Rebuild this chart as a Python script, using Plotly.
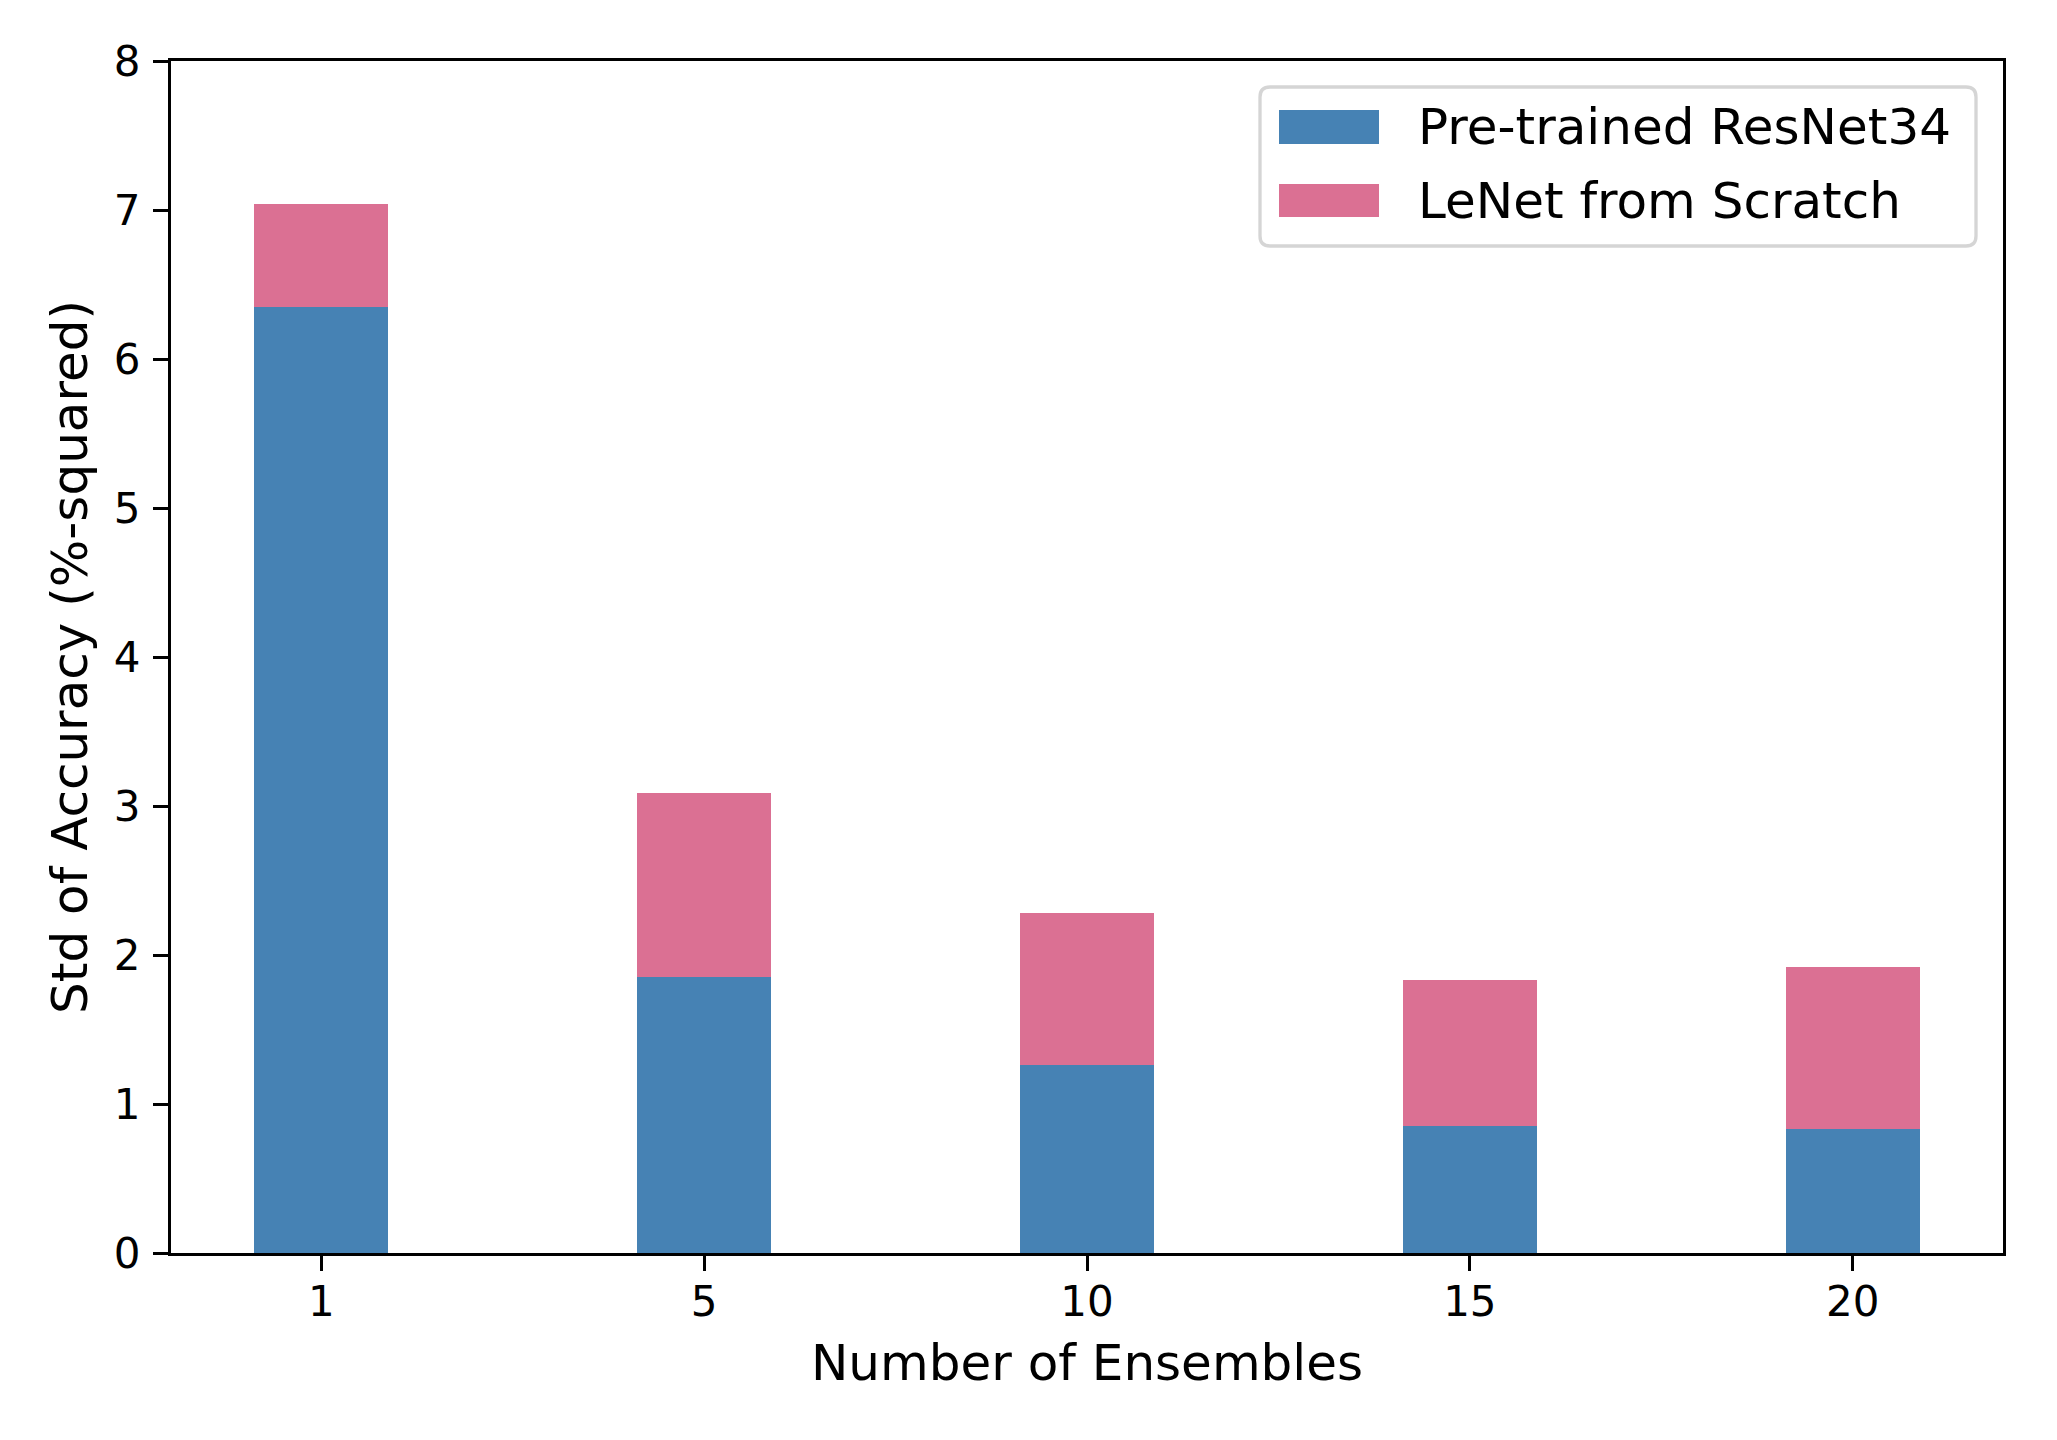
import plotly.graph_objects as go

categories = ["1", "5", "10", "15", "20"]
resnet_values = [6.35, 1.85, 1.26, 0.85, 0.83]
lenet_values = [0.69, 1.24, 1.02, 0.98, 1.09]
series_names = ["Pre-trained ResNet34", "LeNet from Scratch"]
y_ticks = [0, 1, 2, 3, 4, 5, 6, 7, 8]

blue = "#4682b4"
pink = "#db7093"
FONT = "DejaVu Sans"

x_pos = list(range(len(categories)))

fig = go.Figure()
fig.add_trace(go.Bar(x=x_pos, y=resnet_values, name=series_names[0],
                     marker=dict(color=blue, line=dict(width=0)), width=0.35,
                     showlegend=False))
fig.add_trace(go.Bar(x=x_pos, y=lenet_values, name=series_names[1],
                     marker=dict(color=pink, line=dict(width=0)), width=0.35,
                     showlegend=False))

OFF = 8  # default page body margin
W, H = 2049, 1432
L, R, T, B = 163, 54, 53, 187

fig.update_layout(
    width=W, height=H,
    barmode="stack",
    margin=dict(l=L, r=R, t=T, b=B, pad=0),
    paper_bgcolor="white", plot_bgcolor="white",
    font=dict(family=FONT, size=42, color="black"),
    xaxis=dict(
        range=[-0.3925, 4.3925],
        tickmode="array", tickvals=x_pos, ticktext=categories,
        ticks="outside", ticklen=15, tickwidth=3.3, tickcolor="black",
        ticklabelstandoff=-6,
        showline=True, linecolor="black", linewidth=3.3, mirror=True,
        showgrid=False, zeroline=False,
        tickfont=dict(family=FONT, size=42, color="black"),
        title=dict(text="Number of Ensembles", font=dict(family=FONT, size=50, color="black"), standoff=21),
    ),
    yaxis=dict(
        range=[0, 8],
        tickmode="array", tickvals=y_ticks, ticktext=[str(v) for v in y_ticks],
        ticks="outside", ticklen=15, tickwidth=3.3, tickcolor="black",
        ticklabelstandoff=4,
        showline=True, linecolor="black", linewidth=3.3, mirror=True,
        showgrid=False, zeroline=False,
        tickfont=dict(family=FONT, size=42, color="black"),
        title=dict(text="Std of Accuracy (%-squared)", font=dict(family=FONT, size=50, color="black"), standoff=11),
    ),
)

# Legend (matplotlib-style box with wide patches), positions in page pixels
pw = W - L - R
ph = H - T - B
def px_x(v):
    return (v - OFF - L) / pw
def px_y(v):
    return 1 - (v - OFF - T) / ph

bx0, bx1, by0, by1, rad = px_x(1260), px_x(1976), px_y(246), px_y(87), 10
rx = rad / pw
ry = rad / ph
path = (f"M {bx0+rx},{by1} L {bx1-rx},{by1} Q {bx1},{by1} {bx1},{by1-ry} "
        f"L {bx1},{by0+ry} Q {bx1},{by0} {bx1-rx},{by0} "
        f"L {bx0+rx},{by0} Q {bx0},{by0} {bx0},{by0+ry} "
        f"L {bx0},{by1-ry} Q {bx0},{by1} {bx0+rx},{by1} Z")
fig.add_shape(type="path", xref="paper", yref="paper", path=path,
              line=dict(color="#d5d5d5", width=3.3), fillcolor="rgba(255,255,255,0.8)", layer="above")
patch_rows = [(110, 144), (184, 217)]
for (ya, yb), name, col in zip(patch_rows, series_names, [blue, pink]):
    fig.add_shape(type="rect", xref="paper", yref="paper",
                  x0=px_x(1279), x1=px_x(1379), y0=px_y(yb), y1=px_y(ya),
                  line=dict(width=0), fillcolor=col, layer="above")
    fig.add_annotation(xref="paper", yref="paper", x=px_x(1416), y=px_y((ya + yb) / 2),
                       text=name, showarrow=False, xanchor="left", yanchor="middle",
                       font=dict(family=FONT, size=50, color="black"))

fig.write_html("out.html")
